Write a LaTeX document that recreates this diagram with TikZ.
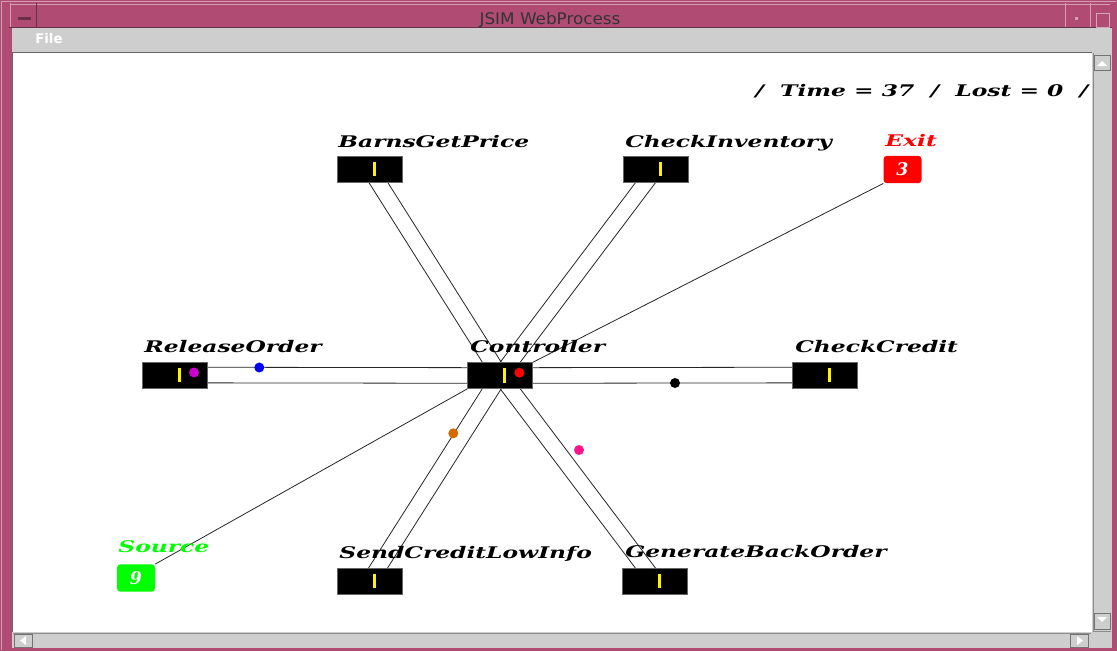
\documentclass[tikz,border=0pt]{standalone}
\usepackage{fontspec}
\usepackage{tikz}
\usetikzlibrary{calc}
\newfontfamily\jsimfont{DejaVu Serif}
\newfontfamily\winfont{DejaVu Sans}
\definecolor{wframe}{RGB}{176,76,116}
\definecolor{wgray}{RGB}{206,206,206}
\definecolor{tokpink}{RGB}{255,20,140}
\definecolor{tokorange}{RGB}{214,104,0}
\definecolor{tokmagenta}{RGB}{204,0,204}

\begin{document}
\begin{tikzpicture}[x=0.75pt,y=0.75pt,yscale=-1,
  srv/.style={draw=black!60, fill=black, minimum width=48.75pt, minimum height=19.5pt, inner sep=0pt,
    path picture={\fill[yellow] ([xshift=2.1pt,yshift=-5.6pt]path picture bounding box.center) rectangle ([xshift=4.7pt,yshift=5.6pt]path picture bounding box.center);}},
  term/.style={rounded corners=2.5pt, minimum width=28.5pt, minimum height=20.5pt, inner sep=0pt, text=white, font=\fontsize{13}{15}\selectfont\jsimfont\bfseries\itshape},
  lbl/.style={anchor=base west, inner sep=0pt, xscale=1.46, font=\fontsize{12}{14}\selectfont\jsimfont\bfseries\itshape},
  link/.style={draw=black!85, line width=0.6pt},
  token/.style={circle, inner sep=0pt, minimum size=7.5pt},
  btn/.style={fill=wgray, draw=black!55, line width=0.75pt}]
%uncomment if require: \path (0,651); %set diagram left start at 0, and has height of 651
\useasboundingbox (0,0) rectangle (1117,651);

%Shape: Window frame
\fill[wframe] (0,0) rectangle (1117,651);
\draw[wframe!55!white, line width=0.75pt] (1,1) -- (1116,1) ;
\draw[wframe!55!white, line width=0.75pt] (1,1) -- (1,650) ;
\draw[wframe!55!white, line width=0.75pt] (10,4) -- (1110,4) ;
\draw[wframe!60!black, line width=0.75pt] (9,27.5) -- (1112,27.5) ;
%Shape: Title buttons
\draw[wframe!55!white, line width=0.75pt] (10,3) -- (10,27) ;
\draw[wframe!60!black, line width=0.75pt] (36,3) -- (36,27) ;
\fill[wframe!60!black] (18,16.5) rectangle (31,19.5) ;
\draw[wframe!55!white, line width=0.75pt] (1065,3) -- (1065,27) ;
\draw[wframe!55!white, line width=0.75pt] (1090,3) -- (1090,27) ;
\fill[wframe!55!white] (1075,17) rectangle (1078,20) ;
\draw[wframe!50!white, line width=0.75pt] (1096,13) rectangle (1109,27) ;
% Text Node
\node (title) at (550,24) [anchor=base, inner sep=0pt, xscale=1.05, font=\fontsize{12}{14}\selectfont\winfont, text=black!80] {JSIM WebProcess};

%Shape: Menu bar
\fill[wgray] (12,28) rectangle (1112,52) ;
% Text Node
\node (file) at (35,43) [anchor=base west, inner sep=0pt, text=white, font=\fontsize{10}{12}\selectfont\winfont\bfseries] {File};

%Shape: Canvas
\fill[white] (12,52) rectangle (1092,632) ;
\draw[black!60, line width=0.75pt] (12.5,632) -- (12.5,52.5) -- (1092,52.5) ;

%Shape: Scroll bars
\fill[wgray] (1092,52) rectangle (1112,648) ;
\fill[wgray] (12,632) rectangle (1092,648) ;
\draw[black!45, line width=0.75pt] (1093,53) -- (1093,631) -- (1111,631) ;
\draw[black!45, line width=0.75pt] (13,633) -- (1091,633) ;
\draw[btn] (1094,55) rectangle (1110,70) ;
\fill[white] (1097,66) -- (1107,66) -- (1102,61) -- cycle ;
\draw[btn] (1094,613) rectangle (1110,629) ;
\fill[white] (1097,617) -- (1107,617) -- (1102,622) -- cycle ;
\draw[btn] (14,634) rectangle (32,647) ;
\fill[white] (20,640.5) -- (26,636) -- (26,645) -- cycle ;
\draw[btn] (1070,634) rectangle (1088,647) ;
\fill[white] (1083,640.5) -- (1077,636) -- (1077,645) -- cycle ;

% Text Node
\node (status) [lbl] at (755,96) {/\ \ Time = 37\ \ /\ \ Lost = 0\ \ /};

%Shape: Stations
\node (barns) [srv] at (369.8,169) {};
\node (inv) [srv] at (655.8,169) {};
\node (rel) [srv] at (175,375) {};
\node (ctrl) [srv] at (500.2,375.5) {};
\node (credit) [srv] at (824.7,375) {};
\node (send) [srv] at (369.8,581) {};
\node (gen) [srv] at (655.2,581) {};
\node (exit) [term, fill=red] at (902.5,169.5) {3};
\node (src) [term, fill=green] at (136,578) {9};

%Straight Lines
\draw[link] ($(barns)!6pt!90:(ctrl)$) -- ($(ctrl)!6pt!-90:(barns)$) ;
\draw[link] ($(barns)!6pt!-90:(ctrl)$) -- ($(ctrl)!6pt!90:(barns)$) ;
\draw[link] ($(inv)!6pt!90:(ctrl)$) -- ($(ctrl)!6pt!-90:(inv)$) ;
\draw[link] ($(inv)!6pt!-90:(ctrl)$) -- ($(ctrl)!6pt!90:(inv)$) ;
\draw[link] ($(rel)!5.85pt!90:(ctrl)$) -- ($(ctrl)!5.85pt!-90:(rel)$) ;
\draw[link] ($(rel)!5.85pt!-90:(ctrl)$) -- ($(ctrl)!5.85pt!90:(rel)$) ;
\draw[link] ($(credit)!5.85pt!90:(ctrl)$) -- ($(ctrl)!5.85pt!-90:(credit)$) ;
\draw[link] ($(credit)!5.85pt!-90:(ctrl)$) -- ($(ctrl)!5.85pt!90:(credit)$) ;
\draw[link] ($(send)!6pt!90:(ctrl)$) -- ($(ctrl)!6pt!-90:(send)$) ;
\draw[link] ($(send)!6pt!-90:(ctrl)$) -- ($(ctrl)!6pt!90:(send)$) ;
\draw[link] ($(gen)!6pt!90:(ctrl)$) -- ($(ctrl)!6pt!-90:(gen)$) ;
\draw[link] ($(gen)!6pt!-90:(ctrl)$) -- ($(ctrl)!6pt!90:(gen)$) ;
\draw[link] (exit.south west) -- (ctrl.north east) ;
\draw[link] (src.north east) -- (ctrl.south west) ;

%Shape: Stations (on top of the lines)
\node [srv] at (barns) {};
\node [srv] at (inv) {};
\node [srv] at (rel) {};
\node [srv] at (ctrl) {};
\node [srv] at (credit) {};
\node [srv] at (send) {};
\node [srv] at (gen) {};

%Shape: Tokens
\node (tok1) [token, fill=tokmagenta] at (194,372.5) {};
\node (tok2) [token, fill=blue] at (259.3,367.5) {};
\node (tok3) [token, fill=red] at (519.3,372.7) {};
\node (tok4) [token, fill=black] at (675,383) {};
\node (tok5) [token, fill=tokorange] at (453.3,433.3) {};
\node (tok6) [token, fill=tokpink] at (579,450) {};

% Text Node
\node (lbarns) [lbl] at (338,147) {BarnsGetPrice};
% Text Node
\node (linv) [lbl] at (625,147) {CheckInventory};
% Text Node
\node (lexit) [lbl, text=red] at (885,146) {Exit};
% Text Node
\node (lrel) [lbl] at (144,352) {ReleaseOrder};
% Text Node
\node (lctrl) [lbl] at (470,352) {Controller};
% Text Node
\node (lcredit) [lbl] at (795,352) {CheckCredit};
% Text Node
\node (lsrc) [lbl, text=green] at (118,552.5) {Source};
% Text Node
\node (lsend) [lbl] at (339,558) {SendCreditLowInfo};
% Text Node
\node (lgen) [lbl] at (625,557.5) {GenerateBackOrder};

\end{tikzpicture}
\end{document}
